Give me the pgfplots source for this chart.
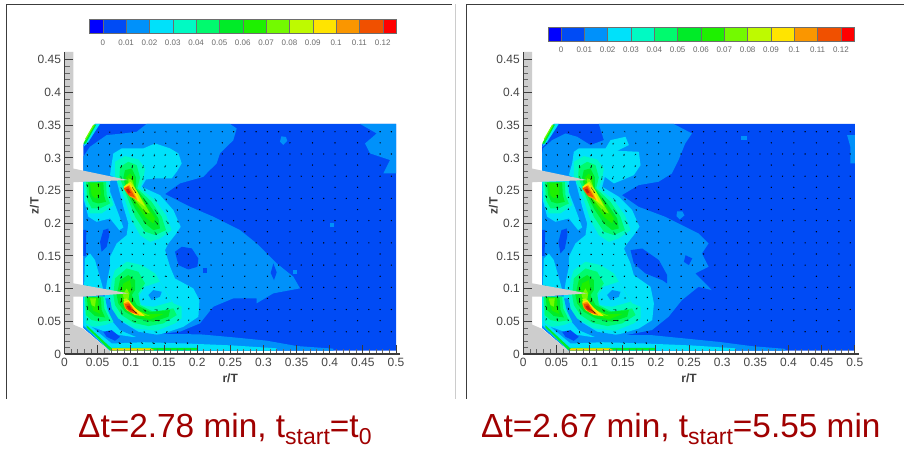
\documentclass[border=0pt]{standalone}
\usepackage{pgfplots}
\usepackage{pgfplotstable}
\pgfplotsset{compat=1.18}
\usetikzlibrary{arrows.meta}
\usepackage{fontspec}
\setmainfont{Liberation Sans}
\definecolor{c0}{RGB}{0,0,255}
\definecolor{c1}{RGB}{0,75,245}
\definecolor{c2}{RGB}{0,145,250}
\definecolor{c3}{RGB}{0,225,250}
\definecolor{c4}{RGB}{0,250,195}
\definecolor{c5}{RGB}{0,250,110}
\definecolor{c6}{RGB}{0,235,40}
\definecolor{c7}{RGB}{30,240,0}
\definecolor{c8}{RGB}{115,250,0}
\definecolor{c9}{RGB}{190,250,0}
\definecolor{c10}{RGB}{255,228,0}
\definecolor{c11}{RGB}{250,150,0}
\definecolor{c12}{RGB}{240,80,0}
\definecolor{c13}{RGB}{200,30,10}
\definecolor{wallgray}{RGB}{205,205,205}
\definecolor{axgray}{RGB}{60,60,60}
\definecolor{lblgray}{RGB}{70,70,70}
\definecolor{capred}{RGB}{160,0,0}
\pgfplotstableread[row sep=\\]{
x y u v\\
.051 .34 1 -2\\ .068 .34 1 -2\\ .085 .34 1 -2\\ .102 .34 1 -2\\ .119 .34 1 -2\\ .136 .34 1 -2\\ .153 .34 1 -1\\ .17 .34 1 -1\\ .187 .34 1 -1\\
.034 .323 2 -2\\ .051 .323 1 -2\\ .068 .323 0 -3\\ .085 .323 0 -3\\ .102 .323 0 -3\\ .119 .323 -1 -3\\ .136 .323 -1 -3\\ .153 .323 -1 -2\\ .17 .323 -1 -2\\ .187 .323 -1 -1\\
.034 .306 1 -3\\ .051 .306 1 -3\\ .068 .306 0 -3\\ .085 .306 0 -4\\ .102 .306 0 -4\\ .119 .306 -1 -4\\ .136 .306 -1 -4\\ .153 .306 -2 -3\\ .17 .306 -2 -2\\ .187 .306 -1 -2\\
.034 .289 1 -3\\ .051 .289 1 -3\\ .068 .289 1 -4\\ .085 .289 0 -5\\ .102 .289 0 -5\\ .119 .289 -1 -5\\ .136 .289 -2 -5\\ .153 .289 -2 -4\\ .17 .289 -2 -3\\ .187 .289 -2 -2\\
.034 .272 0 -3\\ .051 .272 0 -3\\ .085 .272 1 -6\\ .102 .272 0 -6\\ .119 .272 -1 -6\\ .136 .272 -2 -5\\ .153 .272 -3 -4\\ .17 .272 -3 -3\\ .187 .272 -2 -2\\
.034 .255 0 5\\ .051 .255 0 6\\ .068 .255 0 4\\ .085 .255 3 -6\\ .102 .255 6 -9\\ .119 .255 3 -6\\ .136 .255 0 -3\\ .153 .255 -1 -2\\ .17 .255 -2 -2\\ .187 .255 -2 -1\\
.034 .238 0 5\\ .051 .238 0 6\\ .068 .238 0 3\\ .085 .238 2 -3\\ .102 .238 5 -8\\ .119 .238 6 -9\\ .136 .238 3 -5\\ .153 .238 1 -3\\ .17 .238 0 -2\\ .187 .238 -1 -1\\
.034 .221 0 4\\ .051 .221 0 5\\ .068 .221 0 2\\ .085 .221 1 -2\\ .102 .221 3 -5\\ .119 .221 5 -7\\ .136 .221 5 -7\\ .153 .221 3 -4\\ .17 .221 1 -2\\ .187 .221 0 -1\\
.034 .204 0 3\\ .051 .204 1 3\\ .068 .204 1 1\\ .085 .204 1 -1\\ .102 .204 2 -3\\ .119 .204 4 -5\\ .136 .204 5 -6\\ .153 .204 4 -5\\ .17 .204 2 -3\\ .187 .204 1 -1\\
.034 .187 0 2\\ .051 .187 1 2\\ .068 .187 1 0\\ .085 .187 1 -1\\ .102 .187 1 -2\\ .119 .187 2 -3\\ .136 .187 3 -5\\ .153 .187 3 -5\\ .17 .187 2 -2\\ .187 .187 1 -1\\
.034 .17 0 1\\ .051 .17 0 1\\ .068 .17 1 -1\\ .085 .17 1 -2\\ .102 .17 1 -2\\ .119 .17 1 -3\\ .136 .17 2 -3\\ .153 .17 2 -3\\ .17 .17 1 -2\\ .187 .17 1 0\\
.034 .153 0 -1\\ .051 .153 0 1\\ .068 .153 0 -1\\ .085 .153 0 -2\\ .102 .153 0 -2\\ .119 .153 0 -2\\ .136 .153 1 -2\\ .153 .153 1 -2\\ .17 .153 1 -1\\ .187 .153 1 0\\
.034 .136 0 1\\ .051 .136 0 2\\ .068 .136 0 -2\\ .085 .136 0 -3\\ .102 .136 -1 -3\\ .119 .136 -2 -2\\ .136 .136 -2 -1\\ .153 .136 -1 -1\\ .17 .136 0 0\\ .187 .136 1 1\\
.034 .119 0 2\\ .051 .119 0 3\\ .068 .119 0 -3\\ .085 .119 0 -4\\ .102 .119 -1 -4\\ .119 .119 -3 -3\\ .136 .119 -3 -1\\ .153 .119 -2 0\\ .17 .119 -1 1\\ .187 .119 0 2\\
.034 .102 0 3\\ .051 .102 0 4\\ .068 .102 0 -3\\ .085 .102 0 -5\\ .102 .102 -1 -5\\ .119 .102 -2 -3\\ .136 .102 -2 -1\\ .153 .102 -1 1\\ .17 .102 0 2\\ .187 .102 0 2\\
.034 .085 0 5\\ .051 .085 0 6\\ .068 .085 0 1\\ .085 .085 0 -7\\ .102 .085 0 -6\\ .119 .085 -1 -3\\ .136 .085 0 0\\ .153 .085 1 2\\ .17 .085 1 3\\ .187 .085 0 3\\
.034 .068 0 6\\ .051 .068 0 6\\ .068 .068 0 3\\ .085 .068 2 -8\\ .102 .068 7 -6\\ .119 .068 4 -3\\ .136 .068 5 -1\\ .153 .068 4 2\\ .17 .068 2 3\\ .187 .068 1 3\\
.034 .051 1 4\\ .051 .051 0 4\\ .068 .051 -1 2\\ .085 .051 3 -3\\ .102 .051 6 -2\\ .119 .051 8 -1\\ .136 .051 8 0\\ .153 .051 6 1\\ .17 .051 3 2\\ .187 .051 1 2\\
.051 .034 -2 2\\ .068 .034 -2 1\\ .085 .034 0 0\\ .102 .034 2 -1\\ .119 .034 3 -1\\ .136 .034 4 -1\\ .153 .034 3 0\\ .17 .034 2 0\\ .187 .034 1 0\\
.085 .017 -4 0\\ .102 .017 -4 0\\ .119 .017 -4 0\\ .136 .017 -4 0\\ .153 .017 -3 0\\ .17 .017 -3 0\\ .187 .017 -3 0\\
}\arrowtable
\pgfplotstableread[row sep=\\]{
x y\\
.204 .34\\ .221 .34\\ .238 .34\\ .255 .34\\ .272 .34\\ .289 .34\\ .306 .34\\ .323 .34\\ .34 .34\\ .357 .34\\ .374 .34\\ .391 .34\\ .408 .34\\ .425 .34\\ .442 .34\\ .459 .34\\ .476 .34\\ .493 .34\\
.204 .306\\ .221 .306\\ .238 .306\\ .255 .306\\ .272 .306\\ .289 .306\\ .306 .306\\ .323 .306\\ .34 .306\\ .357 .306\\ .374 .306\\ .391 .306\\ .408 .306\\ .425 .306\\ .442 .306\\ .459 .306\\ .476 .306\\ .493 .306\\
.204 .272\\ .221 .272\\ .238 .272\\ .255 .272\\ .272 .272\\ .289 .272\\ .306 .272\\ .323 .272\\ .34 .272\\ .357 .272\\ .374 .272\\ .391 .272\\ .408 .272\\ .425 .272\\ .442 .272\\ .459 .272\\ .476 .272\\ .493 .272\\
.204 .238\\ .221 .238\\ .238 .238\\ .255 .238\\ .272 .238\\ .289 .238\\ .306 .238\\ .323 .238\\ .34 .238\\ .357 .238\\ .374 .238\\ .391 .238\\ .408 .238\\ .425 .238\\ .442 .238\\ .459 .238\\ .476 .238\\ .493 .238\\
.204 .204\\ .221 .204\\ .238 .204\\ .255 .204\\ .272 .204\\ .289 .204\\ .306 .204\\ .323 .204\\ .34 .204\\ .357 .204\\ .374 .204\\ .391 .204\\ .408 .204\\ .425 .204\\ .442 .204\\ .459 .204\\ .476 .204\\ .493 .204\\
.204 .17\\ .221 .17\\ .238 .17\\ .255 .17\\ .272 .17\\ .289 .17\\ .306 .17\\ .323 .17\\ .34 .17\\ .357 .17\\ .374 .17\\ .391 .17\\ .408 .17\\ .425 .17\\ .442 .17\\ .459 .17\\ .476 .17\\ .493 .17\\
.204 .136\\ .221 .136\\ .238 .136\\ .255 .136\\ .272 .136\\ .289 .136\\ .306 .136\\ .323 .136\\ .34 .136\\ .357 .136\\ .374 .136\\ .391 .136\\ .408 .136\\ .425 .136\\ .442 .136\\ .459 .136\\ .476 .136\\ .493 .136\\
.204 .102\\ .221 .102\\ .238 .102\\ .255 .102\\ .272 .102\\ .289 .102\\ .306 .102\\ .323 .102\\ .34 .102\\ .357 .102\\ .374 .102\\ .391 .102\\ .408 .102\\ .425 .102\\ .442 .102\\ .459 .102\\ .476 .102\\ .493 .102\\
.204 .068\\ .221 .068\\ .238 .068\\ .255 .068\\ .272 .068\\ .289 .068\\ .306 .068\\ .323 .068\\ .34 .068\\ .357 .068\\ .374 .068\\ .391 .068\\ .408 .068\\ .425 .068\\ .442 .068\\ .459 .068\\ .476 .068\\ .493 .068\\
.204 .034\\ .221 .034\\ .238 .034\\ .255 .034\\ .272 .034\\ .289 .034\\ .306 .034\\ .323 .034\\ .34 .034\\ .357 .034\\ .374 .034\\ .391 .034\\ .408 .034\\ .425 .034\\ .442 .034\\ .459 .034\\ .476 .034\\ .493 .034\\
.204 .323\\ .238 .323\\ .272 .323\\ .306 .323\\ .34 .323\\ .374 .323\\ .408 .323\\ .442 .323\\ .476 .323\\
.204 .289\\ .238 .289\\ .272 .289\\ .306 .289\\ .34 .289\\ .374 .289\\ .408 .289\\ .442 .289\\ .476 .289\\
.204 .255\\ .238 .255\\ .272 .255\\ .306 .255\\ .34 .255\\ .374 .255\\ .408 .255\\ .442 .255\\ .476 .255\\
.204 .221\\ .238 .221\\ .272 .221\\ .306 .221\\ .34 .221\\ .374 .221\\ .408 .221\\ .442 .221\\ .476 .221\\
.204 .187\\ .238 .187\\ .272 .187\\ .306 .187\\ .34 .187\\ .374 .187\\ .408 .187\\ .442 .187\\ .476 .187\\
.204 .153\\ .238 .153\\ .272 .153\\ .306 .153\\ .34 .153\\ .374 .153\\ .408 .153\\ .442 .153\\ .476 .153\\
.204 .119\\ .238 .119\\ .272 .119\\ .306 .119\\ .34 .119\\ .374 .119\\ .408 .119\\ .442 .119\\ .476 .119\\
.204 .085\\ .238 .085\\ .272 .085\\ .306 .085\\ .34 .085\\ .374 .085\\ .408 .085\\ .442 .085\\ .476 .085\\
.204 .051\\ .238 .051\\ .272 .051\\ .306 .051\\ .34 .051\\ .374 .051\\ .408 .051\\ .442 .051\\ .476 .051\\
}\dottable
\newcommand{\layer}[2]{\addplot[fill=#1,draw=none,forget plot] coordinates {#2} --cycle;}
% contours common to both panels
\newcommand{\innerlayers}{%
\layer{c3}{(.0309,.1461)(.0385,.1538)(.046,.1436)(.0561,.1079)(.0586,.0977)(.0294,.0977)}
\layer{c3}{(.0284,.266)(.0687,.266)(.0687,.2482)(.0812,.215)(.0888,.1936)(.0827,.1895)(.0687,.2074)(.0485,.2022)(.036,.2099)(.0294,.2354)}
% band between pocket and lobe
\layer{c2}{(.0611,.085)(.0676,.085)(.0737,.0671)(.0863,.0492)(.1114,.0339)(.144,.0288)(.1139,.0237)(.0837,.0365)(.0687,.0543)}
\layer{c1}{(.0586,.034)(.0712,.0365)(.0837,.0263)(.0762,.0202)(.0636,.0263)}
% floor and chamfer strips
\layer{c3}{(.0284,.052)(.0712,.0161)(.12,.018)(.185,.016)(.255,.013)(.32,.0087)(.32,.005)(.0686,.005)(.0284,.0441)}
\layer{c6}{(.0334,.044)(.07,.0095)(.2,.0095)(.2,.0055)(.0686,.0055)(.0334,.0405)}
\layer{c10}{(.072,.0085)(.13,.0085)(.135,.0058)(.0686,.0055)}
\layer{c11}{(.071,.0068)(.135,.0068)(.135,.0055)(.0686,.0055)}
% upper pocket
\layer{c4}{(.0294,.2635)(.0661,.2635)(.0676,.2482)(.0737,.2278)(.056,.215)(.0385,.215)(.0309,.2354)}
\layer{c5}{(.0324,.2635)(.0626,.2635)(.0636,.243)(.0687,.2303)(.0536,.2227)(.041,.2227)(.0344,.2354)}
\layer{c6}{(.0355,.2624)(.0586,.2624)(.0596,.243)(.0626,.2328)(.051,.2303)(.0425,.2328)(.0375,.243)}
\layer{c7}{(.0385,.2609)(.0536,.2609)(.0546,.243)(.046,.2379)(.041,.243)}
% lower pocket
\layer{c4}{(.0294,.0876)(.0611,.0876)(.0636,.0698)(.0737,.0493)(.0611,.0442)(.0435,.0417)(.0324,.0468)}
\layer{c5}{(.0309,.0876)(.0586,.0876)(.0601,.0698)(.0687,.0519)(.0536,.0493)(.041,.0519)(.0324,.0595)}
\layer{c6}{(.0334,.0866)(.0546,.0866)(.0561,.0672)(.0611,.056)(.046,.058)(.036,.0672)}
\layer{c7}{(.036,.0866)(.051,.0866)(.051,.0698)(.0546,.0611)(.0435,.0662)}
\layer{c8}{(.0385,.085)(.0475,.085)(.046,.0723)(.041,.0748)}
% upper jet
\layer{c4}{(.0762,.2701)(.0762,.294)(.0913,.3027)(.1114,.2976)(.1215,.2838)(.119,.2686)(.1139,.2533)(.1366,.2354)(.1532,.2125)(.1617,.1895)(.144,.1768)(.129,.1716)(.1139,.1819)(.1013,.2048)(.0913,.2354)(.0837,.2558)}
\layer{c5}{(.0827,.2701)(.0837,.2864)(.0963,.294)(.1089,.2889)(.1139,.2701)(.1099,.2533)(.1315,.2328)(.1466,.2099)(.1532,.1895)(.1366,.1819)(.1215,.187)(.1064,.2099)(.0963,.2354)(.0888,.2558)}
\layer{c6}{(.0888,.2701)(.0913,.2813)(.1013,.2838)(.1079,.2701)(.1079,.2533)(.1265,.2303)(.1416,.2074)(.144,.1921)(.134,.1895)(.1215,.1997)(.1064,.2227)(.0963,.243)(.0913,.2583)}
\layer{c7}{(.0928,.2701)(.0988,.2762)(.1049,.2686)(.1049,.2533)(.119,.2354)(.1366,.2074)(.134,.1997)(.1215,.2099)(.1064,.2303)(.0938,.2533)}
\layer{c8}{(.0963,.2686)(.1013,.267)(.1064,.2533)(.119,.2328)(.129,.215)(.1215,.2176)(.1064,.2354)(.0963,.2507)}
\layer{c9}{(.0913,.2583)(.0998,.2635)(.1099,.2482)(.1215,.2252)(.1114,.2328)(.0998,.243)}
\layer{c10}{(.0888,.2558)(.0988,.2609)(.1099,.243)(.1139,.2328)(.1013,.2405)}
\layer{c11}{(.0888,.2532)(.0978,.2583)(.1064,.243)(.1099,.2354)(.0988,.2405)}
\layer{c12}{(.0898,.2532)(.0963,.2568)(.1029,.2456)(.1064,.2395)(.0963,.243)}
\layer{c13}{(.0928,.2517)(.0963,.2532)(.0998,.2466)(.0963,.2456)}
% lower lobe
\layer{c4}{(.0687,.0876)(.0712,.1131)(.0762,.1284)(.0938,.1411)(.1164,.136)(.1366,.1233)(.1441,.1105)(.1642,.0774)(.1768,.0723)(.1768,.0545)(.1667,.0468)(.1391,.0356)(.1064,.0392)(.0812,.0544)(.0712,.0698)}
\layer{c3}{(.1114,.0876)(.1215,.1029)(.1441,.1105)(.1617,.08)(.134,.0723)(.1164,.0748)}
\layer{c2}{(.1265,.0902)(.134,.0978)(.1466,.0952)(.144,.0876)(.1315,.0825)}
\layer{c5}{(.0737,.0902)(.0762,.1157)(.0938,.1309)(.1114,.1258)(.1215,.108)(.1114,.0927)(.1139,.0748)(.134,.0646)(.1642,.0698)(.1693,.0595)(.1491,.0468)(.1265,.0427)(.1039,.0478)(.0863,.0595)(.0762,.0748)}
\layer{c6}{(.0787,.0902)(.0837,.1131)(.0963,.1208)(.1064,.1131)(.1064,.0978)(.1013,.0902)(.1089,.0748)(.129,.0646)(.1592,.0672)(.1567,.057)(.134,.0493)(.1089,.0544)(.0913,.0646)(.0812,.0774)}
\layer{c7}{(.0837,.0902)(.0888,.108)(.0988,.1131)(.1013,.0978)(.0963,.0876)(.1039,.0723)(.124,.061)(.1491,.061)(.129,.0529)(.1064,.0595)(.0913,.0698)}
\layer{c8}{(.0878,.0902)(.0938,.1003)(.0978,.0927)(.0963,.0825)(.1089,.0672)(.129,.058)(.1114,.061)(.0938,.0733)}
\layer{c9}{(.0888,.0835)(.0938,.085)(.1013,.0748)(.119,.0595)(.1013,.0646)}
\layer{c10}{(.0888,.0799)(.0963,.0825)(.1064,.0698)(.1215,.058)(.1064,.0595)(.0938,.0672)}
\layer{c11}{(.0888,.0774)(.0963,.0799)(.1064,.0662)(.1139,.059)(.1013,.0631)(.0913,.0698)}
\layer{c12}{(.0913,.0764)(.0978,.0774)(.1049,.0662)(.1099,.0611)(.0988,.0646)(.0928,.0698)}
\layer{c13}{(.0938,.0733)(.0978,.0743)(.1029,.0662)(.0963,.0682)}
% top corner streak
\layer{c3}{(.0284,.317)(.046,.352)(.0535,.352)(.0344,.322)}
\layer{c6}{(.0284,.322)(.044,.351)(.048,.351)(.032,.322)}
\layer{c8}{(.031,.329)(.043,.35)(.045,.35)(.033,.329)}
% velocity vectors
\addplot[forget plot,only marks,mark=*,mark size=.4pt,draw=none,fill=black,fill opacity=.4] table {\dottable};
\addplot[forget plot,black,line width=.4pt,opacity=.75,-{Stealth[length=1.6pt,width=1.4pt]},quiver={u=\thisrow{u}*.001,v=\thisrow{v}*.001}] table {\arrowtable};
% walls
\layer{wallgray}{(0,0)(0,.462)(.0133,.462)(.0133,.045)(.0284,.0385)(.0686,.0045)(.0686,0)}
\layer{wallgray}{(0,.2865)(.0963,.266)(.0284,.2635)(0,.262)}
\layer{wallgray}{(0,.1106)(.0963,.0928)(.0284,.0877)(0,.0877)}
}
\pgfplotsset{panel/.style={
  scale only axis, width=335.5pt, height=302pt, anchor=south west,
  xmin=0, xmax=.506, ymin=0, ymax=.462,
  axis lines=left, axis line style={axgray,line width=1.4pt,-},
  axis on top,
  xtick={0,.05,.1,.15,.2,.25,.3,.35,.4,.45,.5},
  xticklabels={0,0.05,0.1,0.15,0.2,0.25,0.3,0.35,0.4,0.45,0.5},
  ytick={0,.05,.1,.15,.2,.25,.3,.35,.4,.45},
  yticklabels={0,0.05,0.1,0.15,0.2,0.25,0.3,0.35,0.4,0.45},
  minor tick num=4,
  tick align=inside, tick pos=left,
  major tick length=8.5pt, minor tick length=5pt,
  tick style={axgray,line width=.9pt},
  minor tick style={axgray!80,line width=.6pt},
  tick label style={font=\fontsize{12}{12}\selectfont,text=lblgray},
  xticklabel style={yshift=-1pt},
  xlabel={\textbf{r/T}}, ylabel={\textbf{z/T}},
  label style={font=\fontsize{12}{12}\selectfont,text=axgray},
  xlabel style={at={(axis description cs:.494,0)},anchor=north,yshift=-16pt},
  ylabel style={at={(axis description cs:0,.5)},anchor=south,xshift=-3pt,yshift=22pt},
}}
\pgfplotsset{cbar/.style={
  scale only axis, width=306.3pt, height=14.5pt, anchor=south west,
  xmin=-.0057, xmax=.1256, ymin=0, ymax=1,
  axis line style={draw=none}, ytick=\empty,
  xtick={0,.01,.02,.03,.04,.05,.06,.07,.08,.09,.1,.11,.12},
  xticklabels={0,0.01,0.02,0.03,0.04,0.05,0.06,0.07,0.08,0.09,0.1,0.11,0.12},
  major tick length=0pt, axis on top,
  tick label style={font=\fontsize{8}{8}\selectfont,text=lblgray!80,yshift=-2.5pt},
  clip=false,
}}
\newcommand{\cb}[3]{\addplot[fill=#1,draw=axgray!75,line width=.4pt,forget plot] coordinates {(#2,0)(#3,0)(#3,1)(#2,1)} --cycle;}
\newcommand{\cbars}{%
\cb{c0}{-.0057}{0}\cb{c1}{0}{.01}\cb{c2}{.01}{.02}\cb{c3}{.02}{.03}\cb{c4}{.03}{.04}\cb{c5}{.04}{.05}\cb{c6}{.05}{.06}\cb{c7}{.06}{.07}\cb{c8}{.07}{.08}\cb{c9}{.08}{.09}\cb{c10}{.09}{.1}\cb{c11}{.1}{.11}\cb{c12}{.11}{.12}\cb{red}{.12}{.1256}}
\begin{document}
\begin{tikzpicture}[x=1pt,y=1pt]
\useasboundingbox (0,0) rectangle (904,452);
\fill[white] (0,0) rectangle (904,452);
\draw[axgray,line width=.9pt] (6.5,53) -- (6.5,448) -- (452,448);
\draw[gray!40,line width=.6pt] (454.8,53) -- (454.8,448);
\draw[axgray,line width=.9pt] (466,53) -- (466,448) -- (904,448);
% left colour bar
\begin{axis}[cbar,at={(89.5pt,418.3pt)}] \cbars \end{axis}
% right colour bar
\begin{axis}[cbar,at={(547.7pt,410.7pt)}] \cbars \end{axis}
% left panel
\begin{axis}[panel,at={(64.5pt,98pt)}]
\layer{c1}{(.0284,.32)(.046,.352)(.5,.352)(.5,.005)(.0686,.005)(.0284,.04)}
\layer{c2}{(.1239,.352)(.2496,.352)(.2597,.345)(.2546,.327)(.2345,.307)(.2295,.2915)(.2169,.279)(.2094,.271)(.1742,.261)(.1516,.2447)(.1893,.2253)(.2245,.21)(.2647,.1896)(.2898,.1692)(.32,.1386)(.3451,.1183)(.3552,.1004)(.315,.0928)(.2898,.0775)(.2898,.0851)(.2546,.0851)(.2245,.0724)(.2044,.0469)(.1742,.0342)(.144,.0306)(.2044,.0301)(.2546,.0255)(.3049,.0204)(.3502,.0122)(.4055,.0082)(.4055,.005)(.0686,.005)(.0284,.04)(.0284,.3018)(.0384,.317)(.0636,.3349)(.0887,.3374)(.1088,.34)}
\layer{c2}{(.4457,.352)(.5,.352)(.5,.2763)(.4809,.2763)(.4909,.2967)(.4608,.3069)(.4532,.322)(.4708,.3374)}
\layer{c2}{(.327,.333)(.334,.332)(.336,.326)(.33,.32)(.325,.325)}
\layer{c2}{(.4,.2)(.407,.2)(.407,.194)(.4,.194)}
\layer{c2}{(.345,.128)(.35,.128)(.35,.123)(.345,.123)}
\layer{c1}{(.0284,.19)(.033,.19)(.032,.15)(.0284,.15)}
\layer{c1}{(.056,.1564)(.0536,.1716)(.0586,.1895)(.0661,.192)(.0676,.1819)(.0636,.164)}
\layer{c1}{(.1667,.1564)(.1768,.164)(.1919,.1615)(.2019,.1461)(.2004,.1334)(.1868,.1293)(.1718,.136)}
\layer{c1}{(.2095,.1309)(.2155,.1309)(.2155,.1242)(.2095,.1242)}
\layer{c1}{(.315,.1385)(.32,.125)(.316,.113)(.311,.124)}
\layer{c3}{(.0787,.2686)(.0687,.2736)(.0712,.2915)(.0737,.3068)(.0863,.3145)(.119,.3145)(.1366,.3221)(.1592,.3145)(.1718,.3068)(.1768,.2915)(.1693,.2788)(.1617,.2686)(.1366,.2686)(.123,.267)(.1164,.2558)(.1441,.243)(.1642,.2201)(.1753,.1946)(.1667,.1819)(.1567,.1691)(.1516,.159)(.1592,.1334)(.1667,.1155)(.1944,.1002)(.2035,.0824)(.2019,.0569)(.1793,.0416)(.1491,.0314)(.124,.0263)(.1013,.0263)(.0687,.0314)(.0485,.039)(.0334,.0441)(.0284,.0518)(.0284,.0875)(.0611,.0875)(.0636,.1079)(.0687,.1334)(.0687,.1487)(.0787,.1691)(.0938,.1819)(.0963,.1997)(.0888,.2252)(.0797,.2609)}
\innerlayers
\end{axis}
% right panel
\begin{axis}[panel,at={(523.3pt,98pt)}]
\layer{c1}{(.0284,.32)(.046,.352)(.5,.352)(.5,.005)(.0686,.005)(.0284,.04)}
\layer{c2}{(.1139,.352)(.2266,.352)(.2543,.3374)(.2442,.3221)(.2341,.2966)(.2241,.2762)(.204,.2635)(.1738,.2583)(.1486,.243)(.1738,.2252)(.214,.2099)(.2543,.1895)(.2643,.1844)(.2794,.1691)(.2693,.1538)(.2794,.1334)(.2593,.1232)(.2844,.0977)(.2643,.1028)(.2392,.0824)(.219,.0569)(.1939,.0365)(.1537,.0288)(.1939,.0288)(.2442,.0237)(.2945,.0186)(.3448,.012)(.3951,.0079)(.3951,.005)(.0686,.005)(.0284,.04)(.0284,.3068)(.0294,.3145)(.0435,.3272)(.0636,.3374)(.0812,.3323)(.1013,.3196)(.1215,.3272)}
\layer{c2}{(.4883,.3349)(.5,.335)(.5,.2915)(.4933,.2915)(.4933,.317)}
\layer{c2}{(.328,.333)(.337,.333)(.337,.327)(.328,.327)}
\layer{c2}{(.232,.218)(.24,.218)(.243,.212)(.236,.206)(.231,.211)}
\layer{c1}{(.0284,.19)(.033,.19)(.032,.15)(.0284,.15)}
\layer{c1}{(.056,.1538)(.053,.1716)(.0576,.1895)(.0656,.192)(.0666,.1819)(.0626,.1614)}
\layer{c1}{(.1617,.1589)(.1793,.1614)(.2045,.1436)(.217,.1206)(.217,.1079)(.2095,.113)(.1843,.1232)(.1667,.1385)}
\layer{c1}{(.2447,.1512)(.2548,.1461)(.2497,.136)(.2422,.141)}
\layer{c3}{(.0787,.2686)(.0687,.2736)(.0737,.2915)(.0762,.3093)(.0837,.3145)(.124,.3145)(.1315,.3272)(.1542,.3323)(.1592,.3196)(.1416,.3109)(.1743,.3093)(.1768,.2889)(.1667,.2736)(.1491,.266)(.1366,.2609)(.123,.2711)(.119,.2558)(.1441,.2405)(.1642,.2201)(.1753,.1946)(.1667,.1819)(.1567,.1691)(.1517,.1614)(.1617,.1385)(.1667,.1206)(.1919,.1028)(.197,.0773)(.1944,.0518)(.1743,.039)(.1491,.0314)(.124,.0263)(.1013,.0263)(.0687,.0314)(.0485,.039)(.0334,.0441)(.0284,.0518)(.0284,.0875)(.0611,.0875)(.0636,.1079)(.0687,.1334)(.0687,.1487)(.0787,.1691)(.0938,.1819)(.0963,.1997)(.0888,.2252)(.0797,.2609)}
\innerlayers
\end{axis}
\node[anchor=base west,text=capred,inner sep=0pt] at (78,14) {\fontsize{33.4}{34}\selectfont Δt=2.78 min, t\raisebox{-7pt}{\fontsize{23}{23}\selectfont start}=t\raisebox{-7pt}{\fontsize{23}{23}\selectfont 0}};
\node[anchor=base west,text=capred,inner sep=0pt] at (481,14) {\fontsize{33.4}{34}\selectfont Δt=2.67 min, t\raisebox{-7pt}{\fontsize{23}{23}\selectfont start}=5.55 min};
\end{tikzpicture}
\end{document}
